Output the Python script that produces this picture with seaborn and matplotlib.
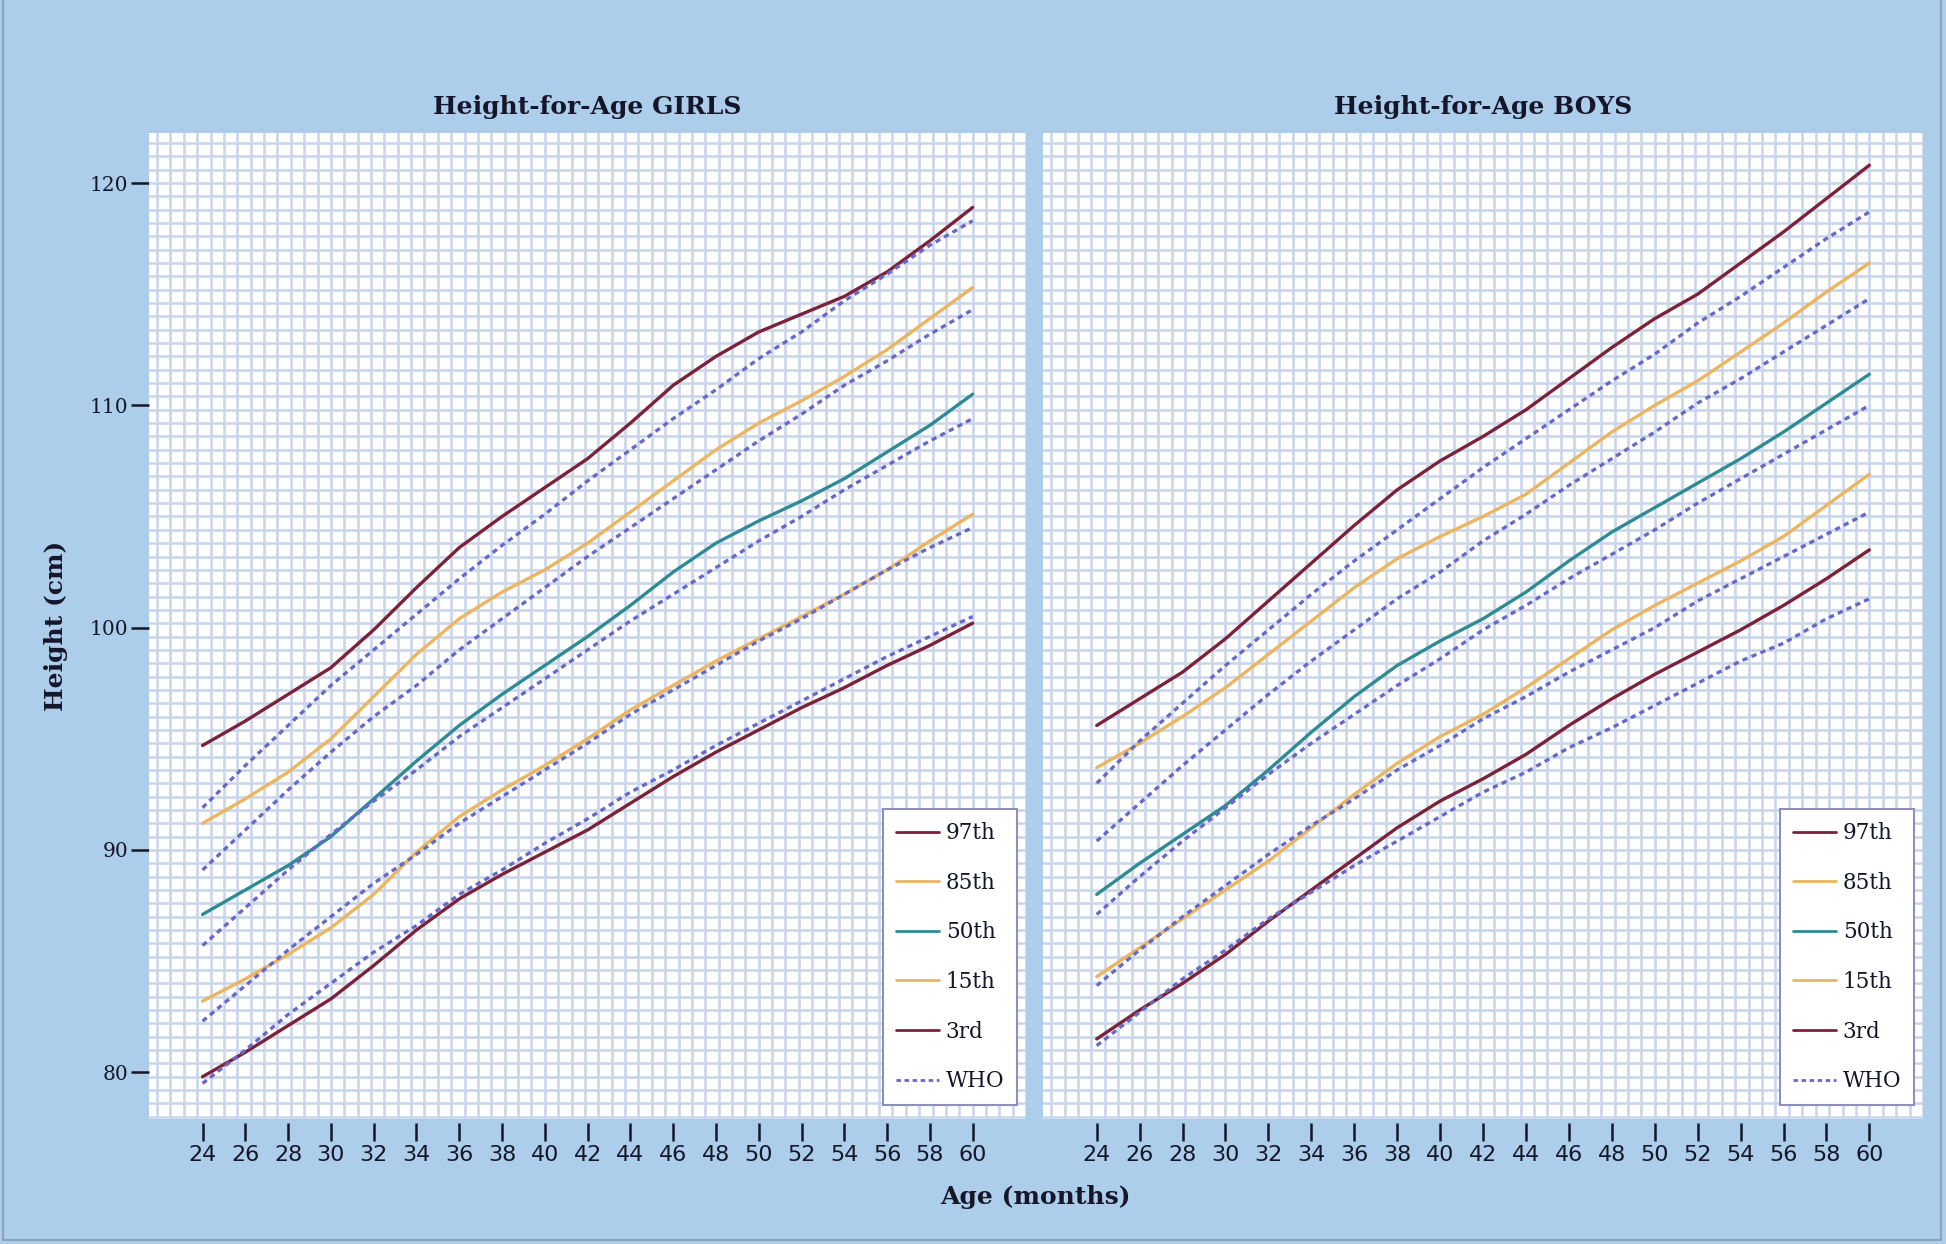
import matplotlib
matplotlib.use('Agg')
import matplotlib.pyplot as plt
from matplotlib.lines import Line2D
from matplotlib.ticker import MultipleLocator
import seaborn as sns

# --- data ---
ages = list(range(24, 61, 2))

girls_p97 = [94.7, 95.8, 97.0, 98.2, 99.9, 101.8, 103.6, 105.0, 106.3, 107.6,
             109.2, 110.9, 112.2, 113.3, 114.1, 114.9, 116.0, 117.4, 118.9]
girls_p85 = [91.2, 92.3, 93.5, 95.0, 96.9, 98.8, 100.4, 101.6, 102.6, 103.8,
             105.2, 106.6, 108.0, 109.2, 110.2, 111.3, 112.5, 113.9, 115.3]
girls_p50 = [87.1, 88.2, 89.3, 90.6, 92.3, 94.0, 95.6, 97.0, 98.3, 99.6,
             101.0, 102.5, 103.8, 104.8, 105.7, 106.7, 107.9, 109.1, 110.5]
girls_p15 = [83.2, 84.2, 85.3, 86.5, 88.0, 89.9, 91.5, 92.7, 93.8, 95.0,
             96.3, 97.4, 98.5, 99.5, 100.5, 101.5, 102.6, 103.9, 105.1]
girls_p3 = [79.8, 80.9, 82.1, 83.3, 84.8, 86.4, 87.8, 88.9, 89.9, 90.9,
            92.1, 93.3, 94.4, 95.4, 96.4, 97.3, 98.3, 99.2, 100.2]

who_girls_p97 = [91.9, 93.8, 95.6, 97.4, 99.0, 100.6, 102.2, 103.7, 105.1, 106.6,
                 108.0, 109.4, 110.7, 112.1, 113.3, 114.7, 115.9, 117.2, 118.3]
who_girls_p85 = [89.1, 90.9, 92.7, 94.4, 96.0, 97.4, 99.0, 100.4, 101.8, 103.2,
                 104.5, 105.8, 107.1, 108.4, 109.6, 110.9, 112.0, 113.2, 114.3]
who_girls_p50 = [85.7, 87.4, 89.1, 90.7, 92.2, 93.6, 95.1, 96.4, 97.7, 99.0,
                 100.3, 101.5, 102.7, 103.9, 105.0, 106.2, 107.3, 108.4, 109.4]
who_girls_p15 = [82.3, 83.9, 85.5, 87.0, 88.5, 89.8, 91.2, 92.4, 93.6, 94.8,
                 96.1, 97.2, 98.3, 99.4, 100.4, 101.5, 102.6, 103.6, 104.5]
who_girls_p3 = [79.5, 81.0, 82.6, 84.0, 85.4, 86.6, 88.0, 89.1, 90.3, 91.4,
                92.6, 93.6, 94.7, 95.7, 96.7, 97.7, 98.7, 99.6, 100.5]

boys_p97 = [95.6, 96.8, 98.0, 99.5, 101.2, 102.9, 104.6, 106.2, 107.5, 108.6,
            109.8, 111.2, 112.6, 113.9, 115.0, 116.4, 117.8, 119.3, 120.8]
boys_p85 = [93.7, 94.8, 96.0, 97.3, 98.8, 100.3, 101.8, 103.1, 104.1, 105.0,
            106.0, 107.4, 108.8, 110.0, 111.1, 112.4, 113.7, 115.1, 116.4]
boys_p50 = [88.0, 89.4, 90.7, 92.0, 93.6, 95.3, 96.9, 98.3, 99.4, 100.4,
            101.6, 103.0, 104.3, 105.4, 106.5, 107.6, 108.8, 110.1, 111.4]
boys_p15 = [84.3, 85.6, 86.9, 88.2, 89.5, 91.0, 92.5, 93.9, 95.1, 96.1,
            97.3, 98.6, 99.9, 101.0, 102.0, 103.0, 104.1, 105.5, 106.9]
boys_p3 = [81.5, 82.8, 84.0, 85.3, 86.8, 88.2, 89.6, 91.0, 92.2, 93.2,
           94.3, 95.6, 96.8, 97.9, 98.9, 99.9, 101.0, 102.2, 103.5]

who_boys_p97 = [93.0, 94.9, 96.6, 98.3, 99.9, 101.5, 103.0, 104.4, 105.8, 107.2,
                108.5, 109.8, 111.1, 112.3, 113.7, 114.9, 116.2, 117.5, 118.7]
who_boys_p85 = [90.4, 92.1, 93.8, 95.4, 97.0, 98.5, 99.9, 101.3, 102.5, 103.9,
                105.1, 106.4, 107.6, 108.8, 110.1, 111.2, 112.4, 113.6, 114.8]
who_boys_p50 = [87.1, 88.8, 90.4, 91.9, 93.4, 94.8, 96.1, 97.4, 98.6, 99.9,
                101.0, 102.2, 103.3, 104.4, 105.6, 106.7, 107.8, 108.9, 110.0]
who_boys_p15 = [83.9, 85.5, 87.0, 88.4, 89.8, 91.1, 92.3, 93.6, 94.7, 95.9,
                96.9, 98.0, 99.0, 100.0, 101.2, 102.2, 103.2, 104.2, 105.2]
who_boys_p3 = [81.2, 82.7, 84.2, 85.5, 86.9, 88.1, 89.3, 90.4, 91.5, 92.6,
               93.5, 94.6, 95.5, 96.5, 97.5, 98.5, 99.3, 100.4, 101.3]

labels = ['97th', '85th', '50th', '15th', '3rd', 'WHO']
x_ticks = list(range(24, 61, 2))
y_ticks = [80, 90, 100, 110, 120]

# --- style ---
BG = '#adceeb'
GRID = '#cad6ea'
MAROON = '#7b2138'
ORANGE = '#ecb560'
TEAL = '#2e8b94'
WHO_COL = '#6868c8'
TXT = '#16162a'
solid_colors = [MAROON, ORANGE, TEAL, ORANGE, MAROON]
WHO_DASH = (0, (1.6, 1.3))

sns.set_style('white')
plt.rcParams['font.family'] = ['DejaVu Serif']

fig = plt.figure(figsize=(19.46, 12.44), dpi=100, facecolor=BG)
ax_g = fig.add_axes([0.0766, 0.1005, 0.4507, 0.7926])
ax_b = fig.add_axes([0.536, 0.1005, 0.4522, 0.7926])


def draw_panel(ax, solid, who, title, show_y):
    ax.set_facecolor('white')
    for vals, col in zip(solid, solid_colors):
        sns.lineplot(x=ages, y=vals, ax=ax, color=col, lw=2.4, legend=False)
    for vals in who:
        sns.lineplot(x=ages, y=vals, ax=ax, color=WHO_COL, lw=2.4,
                     linestyle=WHO_DASH, legend=False)

    ax.set_xlim(21.5, 62.5)
    ax.set_ylim(77.9, 122.25)
    ax.set_xlabel('')
    ax.set_ylabel('')

    # graph-paper grid
    ax.xaxis.set_minor_locator(MultipleLocator(0.625))
    ax.yaxis.set_minor_locator(MultipleLocator(0.6))
    ax.xaxis.remove_overlapping_locs = False
    ax.yaxis.remove_overlapping_locs = False
    ax.grid(False, which='major')
    ax.grid(True, which='minor', color=GRID, lw=1.9)
    ax.set_axisbelow(True)

    for s in ax.spines.values():
        s.set_visible(False)
    ax.spines['bottom'].set_position(('outward', 3))

    ax.set_xticks(x_ticks)
    ax.tick_params(axis='x', which='major', direction='out', length=13, width=1.8,
                   color=TXT, labelcolor=TXT, labelsize=16, pad=3, bottom=True)
    for lab in ax.get_xticklabels():
        lab.set_family('DejaVu Sans')
    ax.tick_params(which='minor', length=0)

    ax.set_yticks(y_ticks)
    if show_y:
        ax.tick_params(axis='y', which='major', direction='out', length=13, width=1.8,
                       color=TXT, labelcolor=TXT, labelsize=14.5, pad=2, left=True)
    else:
        ax.tick_params(axis='y', which='major', length=0, labelleft=False)

    ax.set_title(title, fontsize=18, fontweight='bold', color=TXT, pad=14)

    handles = [Line2D([], [], color=c, lw=2) for c in solid_colors]
    handles.append(Line2D([], [], color=WHO_COL, lw=2, linestyle=WHO_DASH))
    leg = ax.legend(handles, labels, loc='lower right', bbox_to_anchor=(0.99, 0.0142),
                    borderaxespad=0, frameon=True, fancybox=False, framealpha=1,
                    facecolor='white', edgecolor='#8e90b8',
                    prop={'family': 'DejaVu Serif', 'size': 15.5},
                    handlelength=2.0, handletextpad=0.3, labelspacing=1.28,
                    borderpad=0.6)
    leg.get_frame().set_linewidth(1.5)
    for t in leg.get_texts():
        t.set_color(TXT)


draw_panel(ax_g, [girls_p97, girls_p85, girls_p50, girls_p15, girls_p3],
           [who_girls_p97, who_girls_p85, who_girls_p50, who_girls_p15, who_girls_p3],
           'Height-for-Age GIRLS', True)
draw_panel(ax_b, [boys_p97, boys_p85, boys_p50, boys_p15, boys_p3],
           [who_boys_p97, who_boys_p85, who_boys_p50, who_boys_p15, who_boys_p3],
           'Height-for-Age BOYS', False)

ax_g.set_ylabel('Height (cm)', fontsize=18, fontweight='bold', color=TXT)
ax_g.yaxis.set_label_coords(-0.092, 0.5)
fig.text(0.532, 0.038, 'Age (months)', ha='center', va='center',
         fontsize=18, fontweight='bold', color=TXT)

# outer frame
fig.add_artist(Line2D([0.0015, 0.0015, 0.9975, 0.9975], [1.0, 0.003, 0.003, 1.0],
                      transform=fig.transFigure, color='#8ea2bd', lw=1.5))

fig.savefig('out.png', dpi=100, facecolor=BG)
